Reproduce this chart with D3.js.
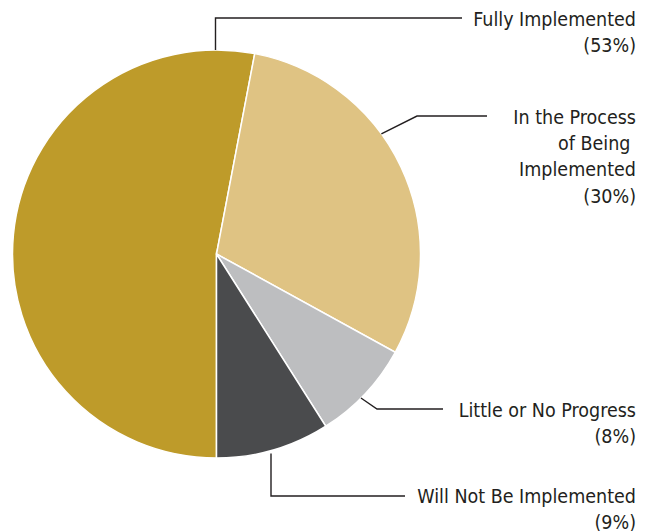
<!DOCTYPE html>
<html><head><meta charset="utf-8">
<script src="https://cdn.jsdelivr.net/npm/d3@7"></script>
<style>body{margin:0;background:#fff}svg{display:block}</style>
</head><body>
<script>
const categories = ["Fully Implemented", "In the Process of Being Implemented", "Little or No Progress", "Will Not Be Implemented"];
const values = [53, 30, 8, 9];
const colors = ["#BE9B2A", "#DFC383", "#BDBEC0", "#4A4B4D"];
const labelLines = [["Fully Implemented", "(53%)"], ["In the Process", "of Being ", "Implemented", "(30%)"], ["Little or No Progress", "(8%)"], ["Will Not Be Implemented", "(9%)"]];

const W = 648, H = 531, cx = 216.5, cy = 254, R = 204;
const svg = d3.select("body").append("svg").attr("width", W).attr("height", H);
const pie = d3.pie().sort(null).startAngle(-Math.PI).endAngle(Math.PI);
const arcs = pie(values);
const arc = d3.arc().innerRadius(0).outerRadius(R);
const g = svg.append("g").attr("transform", `translate(${cx},${cy})`);
g.selectAll("path").data(arcs).enter().append("path")
  .attr("d", arc).attr("fill", (d, i) => colors[i])
  .attr("stroke", "#fff").attr("stroke-width", 1.5);

const pt = (a, r) => [cx + r * Math.sin(a), cy - r * Math.cos(a)];
const mid = d => (d.startAngle + d.endAngle) / 2;
const lines = [];
{ const p0 = [cx - 1, cy - R];
  lines.push([p0, [p0[0], 18], [462, 18]]); }
{ const p0 = pt(mid(arcs[1]) - 0.19, R);
  lines.push([p0, [417, 116], [487, 116]]); }
{ const p0 = pt(mid(arcs[2]) + 0.03, R);
  lines.push([p0, [377, 409], [443, 409]]); }
{ const p0 = [271, pt(mid(arcs[3]) + 0.1, R)[1] - 1];
  lines.push([p0, [271, 496], [405, 496]]); }
svg.append("g").selectAll("path").data(lines).enter().append("path")
  .attr("d", d => d3.line()(d)).attr("fill", "none")
  .attr("stroke", "#231F20").attr("stroke-width", 1.4);

const baselines = [26, 124, 417, 503];
const lh = 26.2;
const tg = svg.append("g").attr("font-family", "'Liberation Sans Narrow','DejaVu Sans Condensed',sans-serif")
  .attr("font-size", 19.5).attr("fill", "#231F20").attr("text-anchor", "end");
labelLines.forEach((ls, i) => {
  ls.forEach((t, j) => {
    tg.append("text").attr("x", 636).attr("y", baselines[i] + j * lh)
      .style("white-space", "pre").text(t);
  });
});
</script>
</body></html>
